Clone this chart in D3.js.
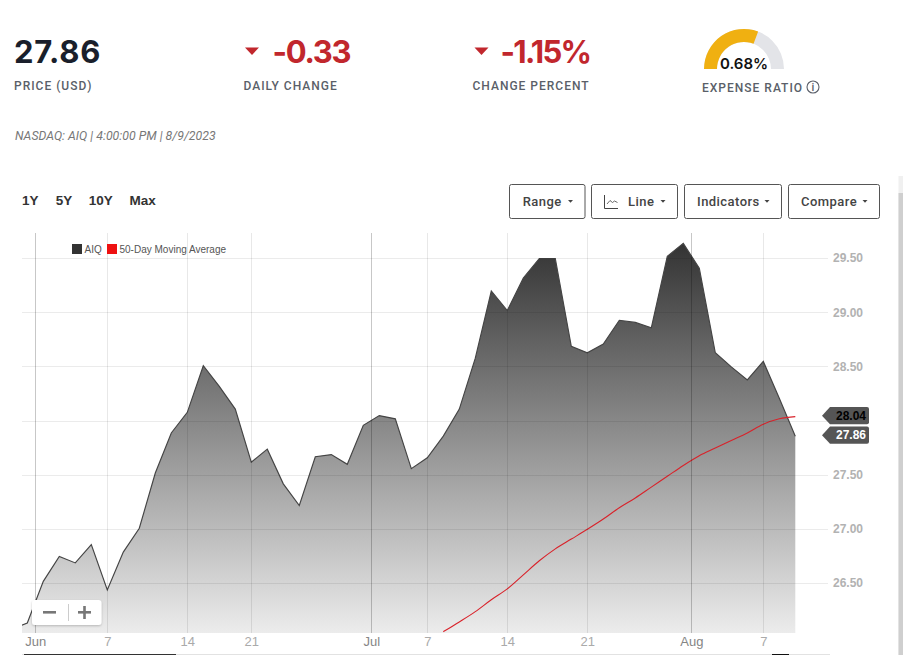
<!DOCTYPE html>
<html>
<head>
<meta charset="utf-8">
<script src="https://cdn.jsdelivr.net/npm/d3@7"></script>
<style>
html,body{margin:0;padding:0;background:#fff;overflow:hidden}
svg{display:block}
</style>
</head>
<body>
<svg id="c" width="903" height="655"></svg>
<script>
const dates = ["May 30","May 31","Jun 1","Jun 2","Jun 5","Jun 6","Jun 7","Jun 8","Jun 9","Jun 12","Jun 13","Jun 14","Jun 15","Jun 16","Jun 20","Jun 21","Jun 22","Jun 23","Jun 26","Jun 27","Jun 28","Jun 29","Jun 30","Jul 3","Jul 5","Jul 6","Jul 7","Jul 10","Jul 11","Jul 12","Jul 13","Jul 14","Jul 17","Jul 18","Jul 19","Jul 20","Jul 21","Jul 24","Jul 25","Jul 26","Jul 27","Jul 28","Jul 31","Aug 1","Aug 2","Aug 3","Aug 4","Aug 7","Aug 8","Aug 9"];
const closes = [26.08,26.135,26.52,26.75,26.69,26.86,26.44,26.79,27.01,27.52,27.89,28.08,28.51,28.32,28.11,27.62,27.74,27.42,27.22,27.67,27.69,27.60,27.96,28.05,28.02,27.56,27.66,27.86,28.11,28.58,29.20,29.02,29.32,29.50,29.50,28.69,28.63,28.71,28.93,28.91,28.86,29.52,29.64,29.41,28.63,28.50,28.38,28.55,28.21,27.86];
const maDates = dates.slice(27);
const maValues = [26.055,26.145,26.24,26.35,26.45,26.58,26.71,26.82,26.91,27.0,27.095,27.2,27.29,27.39,27.49,27.59,27.68,27.75,27.82,27.89,27.97,28.02,28.04];
const yGrid = [26.5,27,27.5,28,28.5,29,29.5];
const yLabelled = [26.5,27,27.5,28.5,29,29.5];
const monthTicks = [1.5,22.5,42.5];
const monthLabels = ["Jun","Jul","Aug"];
const weekTicks = [6,11,15,26,31,36,47];
const weekLabels = ["7","14","21","7","14","21","7"];
const rangeLabels = ["1Y","5Y","10Y","Max"];
const buttonLabels = ["Range","Line","Indicators","Compare"];
const legendLabels = ["AIQ","50-Day Moving Average"];
const expenseFraction = 0.615;

const svg = d3.select("#c");
const NUM = "Inter, 'Open Sans', sans-serif";
const LAB = "Roboto, sans-serif";
const ARIAL = "'Liberation Sans', Arial, sans-serif";

const x = d3.scaleLinear().domain([0, closes.length-1]).range([11.3, 795.3]);
const y = d3.scaleLinear().domain([26.5, 29.5]).range([583.5, 258.5]);
const plot = {l:22, r:828, t:233, b:633};

const defs = svg.append("defs");
const g = defs.append("linearGradient").attr("id","ag").attr("gradientUnits","userSpaceOnUse")
  .attr("x1",0).attr("x2",0).attr("y1",243).attr("y2",plot.b);
g.append("stop").attr("offset",0).attr("stop-color","#333333");
g.append("stop").attr("offset",1).attr("stop-color","#ececec");
defs.append("clipPath").attr("id","pc").append("rect")
  .attr("x",plot.l).attr("y",plot.t).attr("width",plot.r-plot.l).attr("height",plot.b-plot.t);
const f = defs.append("filter").attr("id","sh").attr("x","-20%").attr("y","-30%").attr("width","140%").attr("height","170%");
f.append("feDropShadow").attr("dx",0).attr("dy",1).attr("stdDeviation",1.2).attr("flood-color","#000").attr("flood-opacity",.22);

// header
function head(tx, val, col, sp){
  svg.append("text").attr("x",tx).attr("y",63).text(val)
    .attr("font-family",NUM).attr("font-weight",700).attr("font-size",31).attr("letter-spacing",sp).attr("fill",col);
}
function label(tx, ty, t){
  svg.append("text").attr("x",tx).attr("y",ty).text(t)
    .attr("font-family",LAB).attr("font-weight",500).attr("font-size",12).attr("letter-spacing",1.0).attr("fill","#5a5f69");
}
head(14,"27.86","#1a1f2b",0.7);
head(272.5,"-0.33","#c1272d",-1.3);
head(500.5,"-1.15%","#c1272d",-1.7);
label(14,90,"PRICE (USD)");
label(243.5,90,"DAILY CHANGE");
label(472.5,90,"CHANGE PERCENT");
label(702,92,"EXPENSE RATIO");
[252,481.5].forEach(cx=>{
  svg.append("path").attr("d",d3.line()([[cx-7,47.5],[cx+7,47.5],[cx,55]])+"Z").attr("fill","#c1272d");
});
svg.append("text").attr("x",15).attr("y",140).text("NASDAQ: AIQ | 4:00:00 PM | 8/9/2023")
  .attr("font-family",LAB).attr("font-style","italic").attr("font-size",12.3).attr("fill","#777");

// gauge
const arc = d3.arc().innerRadius(27).outerRadius(40);
const gauge = svg.append("g").attr("transform","translate(744,69)");
gauge.append("path").attr("d",arc({startAngle:-Math.PI/2,endAngle:Math.PI/2})).attr("fill","#e3e4e8");
gauge.append("path").attr("d",arc({startAngle:-Math.PI/2,endAngle:-Math.PI/2+Math.PI*expenseFraction})).attr("fill","#f0b011");
svg.append("text").attr("x",744).attr("y",69).attr("text-anchor","middle").text("0.68%")
  .attr("font-family",NUM).attr("font-weight",600).attr("font-size",15).attr("fill","#111");
svg.append("circle").attr("cx",813).attr("cy",87).attr("r",6).attr("fill","none").attr("stroke","#5a5f69").attr("stroke-width",1.1);
svg.append("text").attr("x",813).attr("y",91).attr("text-anchor","middle").text("i")
  .attr("font-family",LAB).attr("font-weight",500).attr("font-size",11).attr("fill","#5a5f69");

// range links
const rangeX = [22,55.7,88.7,129.5];
rangeLabels.forEach((t,i)=>{
  svg.append("text").attr("x",rangeX[i]).attr("y",205).text(t)
    .attr("font-family",ARIAL).attr("font-weight",700).attr("font-size",13.5).attr("fill","#333");
});

// buttons
const btnX = [[509.5,585],[591.5,677.5],[684.5,781.5],[788.5,879.5]];
const btnTextX = [522.7,628,697,801];
buttonLabels.forEach((t,i)=>{
  const [a,b]=btnX[i];
  svg.append("rect").attr("x",a).attr("y",184.5).attr("width",b-a).attr("height",34).attr("rx",2)
    .attr("fill","#fff").attr("stroke","#555");
  svg.append("text").attr("x",btnTextX[i]).attr("y",206).text(t)
    .attr("font-family",LAB).attr("font-weight",500).attr("font-size",13).attr("letter-spacing",.45).attr("fill","#444");
  const c=b-14.5;
  svg.append("path").attr("d",d3.line()([[c-2.5,200],[c+2.5,200],[c,202.8]])+"Z").attr("fill","#444");
});
svg.append("path").attr("d","M604.5 195V208.5H618").attr("fill","none").attr("stroke","#444");
svg.append("path").attr("d","M607 204L610 200.5L612.5 202.5L614.5 201L617.5 202.5").attr("fill","none").attr("stroke","#444").attr("stroke-width",.8);

// area + lines
const plotG = svg.append("g").attr("clip-path","url(#pc)");
const area = d3.area().x((d,i)=>x(i)).y0(plot.b).y1(d=>y(d));
plotG.append("path").datum(closes).attr("d",area).attr("fill","url(#ag)");

// grid
const hAxis = d3.axisRight(y).tickValues(yLabelled).tickFormat(d3.format(".2f")).tickSize(0).tickPadding(0);
const gy = svg.append("g").attr("transform","translate(833,-0.5)").call(hAxis);
gy.select(".domain").remove();
gy.selectAll("text").attr("font-family",ARIAL).attr("font-weight",700).attr("font-size",12).attr("fill","#b2b2b2");
svg.append("g").selectAll("line").data(yGrid).join("line")
  .attr("x1",plot.l).attr("x2",plot.r).attr("y1",d=>y(d)+.5-(y(d)%1)).attr("y2",d=>y(d)+.5-(y(d)%1))
  .attr("stroke","#000").attr("stroke-opacity",.08);
const vLines = (vals,op)=>svg.append("g").selectAll("line").data(vals).join("line")
  .attr("x1",d=>Math.round(x(d))+.5).attr("x2",d=>Math.round(x(d))+.5).attr("y1",plot.t).attr("y2",plot.b)
  .attr("stroke","#000").attr("stroke-opacity",op);
vLines(weekTicks,.09);
vLines(monthTicks,.22);

const line = d3.line().x((d,i)=>x(i)).y(d=>y(d));
plotG.append("path").datum(closes).attr("d",line).attr("fill","none").attr("stroke","#444").attr("stroke-width",1.15);
plotG.append("path").datum(maValues).attr("d",d3.line().curve(d3.curveMonotoneX).x((d,i)=>x(dates.indexOf(maDates[i]))).y(d=>y(d)))
  .attr("fill","none").attr("stroke","#d9222a").attr("stroke-width",1.1);

// x axis
const allTicks = monthTicks.concat(weekTicks);
const allLabels = monthLabels.concat(weekLabels);
const xAxis = d3.axisBottom(x).tickValues(allTicks).tickFormat((d,i)=>allLabels[i]).tickSize(0).tickPadding(0);
const gx = svg.append("g").attr("transform","translate(0,637)").call(xAxis);
gx.select(".domain").remove();
gx.selectAll("text").attr("font-family",ARIAL).attr("font-size",13)
  .attr("fill",(d,i)=>i<monthTicks.length?"#858585":"#aaaaaa");

// legend
const legColors = ["#333333","#ee1111"];
const legX = [72,107];
legendLabels.forEach((t,i)=>{
  svg.append("rect").attr("x",legX[i]).attr("y",244).attr("width",10).attr("height",10).attr("fill",legColors[i]);
  svg.append("text").attr("x",legX[i]+12.5).attr("y",252.5).text(t)
    .attr("font-family",ARIAL).attr("font-size",10).attr("fill","#555");
});

// price tags
function tag(v, txtCol){
  const cy = y(v)-1;
  svg.append("path").attr("d",`M822 ${cy}L830 ${cy-8.7}H867a2 2 0 0 1 2 2V${cy+6.7}a2 2 0 0 1 -2 2H830Z`).attr("fill","#555");
  svg.append("text").attr("x",866).attr("y",cy+4.3).attr("text-anchor","end").text(d3.format(".2f")(v))
    .attr("font-family",ARIAL).attr("font-weight",700).attr("font-size",12).attr("fill",txtCol);
}
tag(maValues[maValues.length-1],"#000");
tag(closes[closes.length-1],"#fff");

// zoom control
svg.append("rect").attr("x",32).attr("y",600).attr("width",69.5).attr("height",25).attr("rx",3).attr("fill","#fff").attr("filter","url(#sh)");
svg.append("rect").attr("x",43).attr("y",611).attr("width",13).attr("height",2.6).attr("fill","#777");
svg.append("rect").attr("x",78).attr("y",611).attr("width",13).attr("height",2.6).attr("fill","#777");
svg.append("rect").attr("x",83.2).attr("y",606).attr("width",2.6).attr("height",13).attr("fill","#777");
svg.append("line").attr("x1",68.5).attr("x2",68.5).attr("y1",604).attr("y2",621).attr("stroke","#ccc");

// bottom strip and scrollbar
svg.append("rect").attr("x",22).attr("y",654).attr("width",808).attr("height",1).attr("fill","#e2e2e2");
svg.append("rect").attr("x",24).attr("y",654).attr("width",152).attr("height",1).attr("fill","#333");
svg.append("rect").attr("x",772).attr("y",654).attr("width",17).attr("height",1).attr("fill","#111");
svg.append("rect").attr("x",898.5).attr("y",176).attr("width",4.5).attr("height",479).attr("fill","#f0f0f0");
svg.append("rect").attr("x",898.5).attr("y",193).attr("width",4.5).attr("height",462).attr("fill","#cfcfcf");
</script>
</body>
</html>
